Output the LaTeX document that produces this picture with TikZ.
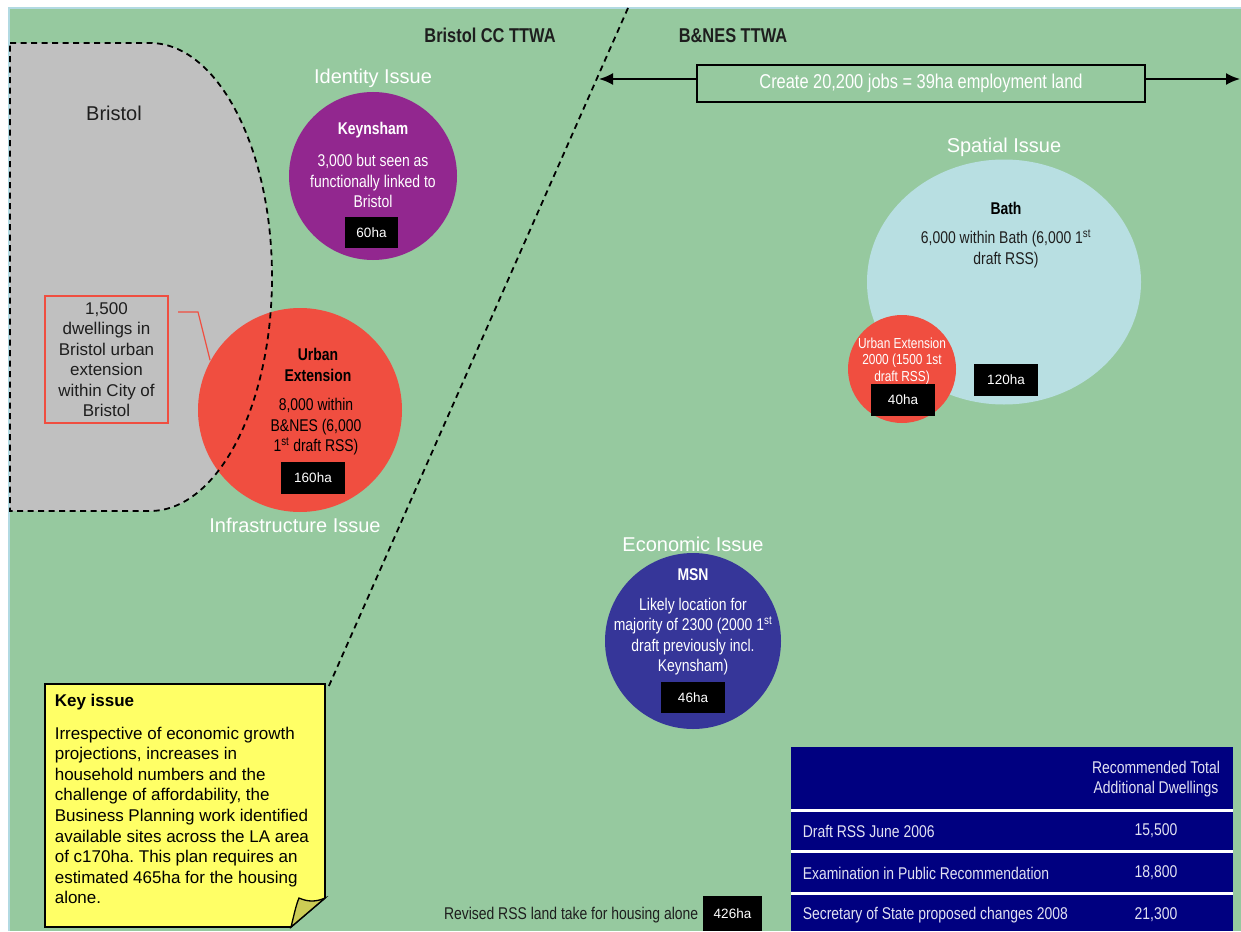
\documentclass[tikz,border=0pt]{standalone}
\usepackage{fontspec}
\setmainfont{Liberation Sans}
\newfontfamily\narrowfont[FakeStretch=0.82]{Liberation Sans}
\usetikzlibrary{arrows.meta,shapes.geometric}
\definecolor{fieldgreen}{RGB}{150,201,159}
\definecolor{edgeblue}{RGB}{178,218,226}
\definecolor{bristolgrey}{RGB}{192,192,192}
\definecolor{keynpurple}{RGB}{146,39,143}
\definecolor{uextred}{RGB}{240,78,64}
\definecolor{bathblue}{RGB}{184,223,226}
\definecolor{msnblue}{RGB}{54,54,153}
\definecolor{noteyellow}{RGB}{255,255,102}
\definecolor{foldyellow}{RGB}{204,204,85}
\definecolor{tablenavy}{RGB}{0,0,128}
\definecolor{tabletext}{RGB}{226,226,242}
\definecolor{darktext}{RGB}{30,30,30}
\frenchspacing

\begin{document}
\begin{tikzpicture}[x=1pt,y=-1pt,line width=1.6pt,
  boundary/.style={dash pattern=on 6pt off 4.5pt,line width=1.8pt},
  haBox/.style={fill=black,text=white,inner sep=0pt,minimum width=64pt,minimum height=32pt,font=\fontsize{13.5}{16}\selectfont},
  issue/.style={text=white,inner sep=0pt,font=\fontsize{20}{24}\selectfont},
  ctitle/.style={inner sep=0pt,font=\narrowfont\bfseries\fontsize{17}{20.5}\selectfont},
  cbody/.style={inner sep=0pt,align=center,font=\narrowfont\fontsize{17}{20.5}\selectfont},
  ttwa/.style={inner sep=0pt,text=darktext,font=\narrowfont\bfseries\fontsize{20}{24}\selectfont},
  rowtext/.style={inner sep=0pt,text=tabletext,font=\narrowfont\fontsize{17}{20.5}\selectfont}]
\path[use as bounding box] (0,0) rectangle (1241,931);
\fill[white] (0,0) rectangle (1241,931);
\fill[fieldgreen] (9,8) rectangle (1241,931);
\draw[edgeblue,line width=1.5pt] (9,931) -- (9,8) -- (1241,8);
\fill[bristolgrey] (10,43) -- (150,43) arc[start angle=-90,end angle=90,x radius=122,y radius=234] -- (10,511) -- cycle;
\coordinate (ttwaTop) at (628,8);
\coordinate (ttwaFoot) at (328,688);
\draw[boundary] (ttwaTop) -- (ttwaFoot);
\node[ttwa] (bristolTTWA) at (490,35) {Bristol CC TTWA};
\node[ttwa] (banesTTWA) at (733,36) {B\&NES TTWA};
\node[draw=black,line width=1.8pt,minimum width=448pt,minimum height=37pt,inner sep=0pt,text=white,font=\narrowfont\fontsize{20}{24}\selectfont] (jobs) at (921,83.5) {Create 20,200 jobs = 39ha employment land};
\coordinate (jobsWest) at (599,79);
\coordinate (jobsEast) at (1240,79);
\draw[line width=2pt,{Latex[length=14pt,width=12pt]}-] (jobsWest) -- (jobsWest -| jobs.west);
\draw[line width=2pt,-{Latex[length=14pt,width=12pt]}] (jobsEast -| jobs.east) -- (jobsEast);
\node[circle,fill=keynpurple,minimum size=168pt,inner sep=0pt] (keynsham) at (373,176) {};
\node[circle,fill=uextred,minimum size=204pt,inner sep=0pt] (uext) at (300,410) {};
\node[ellipse,fill=bathblue,minimum width=274pt,minimum height=245pt,inner sep=0pt] (bath) at (1004,282) {};
\node[circle,fill=uextred,minimum size=108pt,inner sep=0pt] (bathExt) at (902,369) {};
\node[circle,fill=msnblue,minimum size=176pt,inner sep=0pt] (msn) at (693,641) {};
\draw[boundary] (10,43) -- (150,43) arc[start angle=-90,end angle=90,x radius=122,y radius=234] -- (10,511) -- cycle;
\node[inner sep=0pt,text=darktext,font=\fontsize{20}{24}\selectfont] (bristol) at (114,113) {Bristol};
\node[draw=uextred,line width=1.2pt,minimum width=123pt,minimum height=127pt,inner sep=0pt,align=center,text=darktext,font=\fontsize{17}{20.5}\selectfont] (callout) at (106.5,359.5) {1,500\\dwellings in\\Bristol urban\\extension\\within City of\\Bristol};
\coordinate (calloutStart) at (178,312);
\coordinate (calloutKnee) at (198,312);
\draw[uextred,line width=1.2pt] (calloutStart) -- (calloutKnee) -- (uext.151);
\node[issue] (identity) at (373,78) {Identity Issue};
\node[ctitle,text=white] (keynTitle) at (373,130) {Keynsham};
\node[cbody,text=white] (keynText) at (373,181) {3,000 but seen as\\functionally linked to\\Bristol};
\node[haBox,minimum width=53pt,minimum height=31pt] (keynHa) at (371.5,232.5) {60ha};
\node[ctitle,align=center,text=black] (uextTitle) at (318,365) {Urban\\Extension};
\node[cbody,text=black] (uextText) at (316,427) {8,000 within\\B\&NES (6,000\\1\textsuperscript{st} draft RSS)};
\node[haBox] (uextHa) at (313,477.5) {160ha};
\node[issue] (infra) at (295,525) {Infrastructure Issue};
\node[issue] (spatial) at (1004,147) {Spatial Issue};
\node[ctitle,text=black] (bathTitle) at (1006,208) {Bath};
\node[cbody,text=darktext] (bathText) at (1006,249) {6,000 within Bath (6,000 1\textsuperscript{st}\\draft RSS)};
\node[haBox] (bathHa) at (1006,380) {120ha};
\node[inner sep=0pt,align=center,text=white,font=\narrowfont\fontsize{14.5}{16.5}\selectfont] (bathExtText) at (902,361) {Urban Extension\\2000 (1500 1st\\draft RSS)};
\node[haBox] (bathExtHa) at (903,400) {40ha};
\node[issue] (economic) at (693,544) {Economic Issue};
\node[ctitle,text=white] (msnTitle) at (693,575) {MSN};
\node[cbody,text=white] (msnText) at (693,636.5) {Likely location for\\majority of 2300 (2000 1\textsuperscript{st}\\draft previously incl.\\Keynsham)};
\node[haBox,minimum height=31pt] (msnHa) at (693,697.5) {46ha};
\draw[fill=noteyellow,line width=1.6pt] (45,684) -- (325,684) -- (325,898) -- (291,927) -- (45,927) -- cycle;
\draw[fill=foldyellow,line width=1.3pt] (291,927) .. controls (294,915) and (296,905) .. (299,898) .. controls (308,902) and (316,902) .. (325,898) -- cycle;
\node[anchor=west,inner sep=0pt,font=\bfseries\fontsize{17}{20.5}\selectfont] (keyTitle) at (54,702) {Key issue};
\node[anchor=west,inner sep=0pt,align=left,font=\fontsize{17}{20.6}\selectfont] (keyText) at (54,815.5) {Irrespective of economic growth\\projections, increases in\\household numbers and the\\challenge of affordability, the\\Business Planning work identified\\available sites across the LA area\\of c170ha. This plan requires an\\estimated 465ha for the housing\\alone.};
\fill[tablenavy] (791,747) rectangle (1233,931);
\draw[white,line width=3pt] (791,810) -- (1233,810);
\draw[white,line width=3pt] (791,851.5) -- (1233,851.5);
\draw[white,line width=3pt] (791,893) -- (1233,893);
\node[rowtext,align=center] (tableHead) at (1156,779) {Recommended Total\\Additional Dwellings};
\node[rowtext,anchor=west] (rowDraft) at (802,831) {Draft RSS June 2006};
\node[rowtext] (valDraft) at (1156,831) {15,500};
\node[rowtext,anchor=west] (rowExam) at (802,873) {Examination in Public Recommendation};
\node[rowtext] (valExam) at (1156,873) {18,800};
\node[rowtext,anchor=west] (rowSoS) at (802,915) {Secretary of State proposed changes 2008};
\node[rowtext] (valSoS) at (1156,915) {21,300};
\node[anchor=east,inner sep=0pt,text=darktext,font=\narrowfont\fontsize{17}{20.5}\selectfont] (revised) at (699,915) {Revised RSS land take for housing alone};
\node[haBox,minimum width=59pt,minimum height=35pt] (revisedHa) at (732.5,913.5) {426ha};
\end{tikzpicture}
\end{document}
